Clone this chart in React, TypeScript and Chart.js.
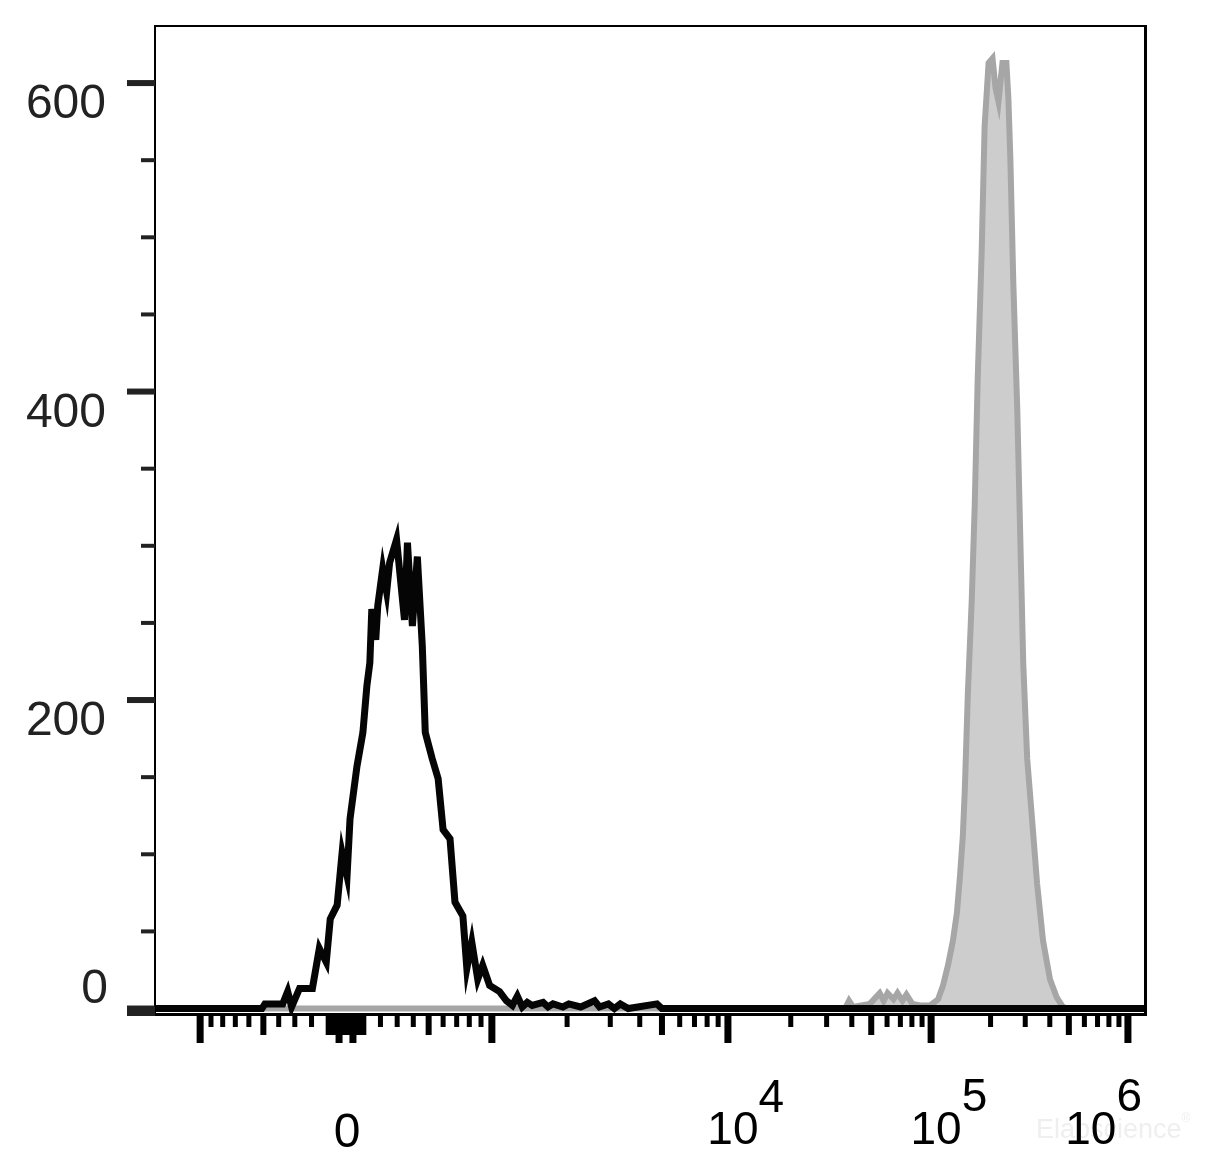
import React, { useEffect, useRef } from "react";
import { Chart, registerables } from "chart.js";

Chart.register(...registerables);

// ---------- data (x in display channels 0..1000, y in cell counts) ----------
const blackChannels = [0, 108, 111, 129, 134, 138, 146, 159, 166, 173, 177, 184, 189, 194, 197, 204, 210, 214, 217, 219, 223, 225, 230, 234, 237, 244, 252, 255, 260, 265, 270, 273, 280, 286, 291, 298, 303, 311, 315, 320, 326, 331, 338, 348, 355, 361, 366, 371, 376, 381, 392, 397, 402, 412, 418, 430, 444, 449, 458, 464, 470, 478, 507, 512, 1000];
const blackCounts = [0, 0, 3, 3, 11, 1, 13, 13, 39, 30, 58, 67, 101, 86, 123, 157, 179, 209, 224, 259, 239, 261, 285, 270, 289, 304, 252, 302, 248, 293, 235, 179, 162, 149, 116, 110, 69, 60, 26, 43, 19, 28, 15, 11, 5, 2, 8, 1, 4, 2, 4, 1, 3, 1, 3, 1, 5, 1, 3, 0, 3, 0, 3, 0, 0];

const grayChannels = [0, 697, 701, 705, 722, 732, 736, 740, 746, 750, 755, 759, 765, 773, 783, 791, 796, 801, 806, 810, 813, 816, 818, 821, 825, 828, 831, 835, 838, 842, 846, 849, 852, 856, 860, 862, 864, 867, 871, 874, 877, 881, 886, 891, 897, 904, 911, 917, 922, 1000];
const grayCounts = [0, 0, 5, 1, 3, 10, 5, 10, 6, 10, 5, 9, 3, 2, 2, 6, 15, 28, 44, 62, 85, 112, 142, 203, 265, 326, 408, 490, 572, 613, 616, 597, 588, 613, 613, 590, 551, 470, 388, 306, 224, 162, 122, 81, 44, 19, 7, 1, 0, 0];

// y axis ticks
const yMajorTicks = [0, 200, 400, 600];
const yMinorTicks = [50, 100, 150, 250, 300, 350, 450, 500, 550];

// x axis ticks (real fluorescence values)
const xLongTicks = [-1000, -40, 40, 1000, 10000, 100000, 1000000];
const xMediumTicks = [-500, -100, -90, -80, -70, -60, -50, -30, -20, -10, 0, 10, 20, 30, 50, 60, 70, 80, 90, 100, 500, 5000, 50000, 500000];
const xShortTicks = [-900, -800, -700, -600, -400, -300, -200, 200, 300, 400, 600, 700, 800, 900, 2000, 3000, 4000, 6000, 7000, 8000, 9000, 20000, 30000, 40000, 60000, 70000, 80000, 90000, 200000, 300000, 400000, 600000, 700000, 800000, 900000];
const xLabelZero = "0";
const xDecadeLabels = [
  { value: 10000, base: "10", exp: "4" },
  { value: 100000, base: "10", exp: "5" },
  { value: 1000000, base: "10", exp: "6" },
];
const watermark = "Elabscience";

// ---------- biexponential (logicle-like) display transform ----------
const LG_C = 102.1;
const LG_P = 3.8;
const ZERO_CH = 192.93;
const CH_PER_UNIT = 85.96;

function biexValue(u: number): number {
  const p = LG_P;
  return LG_C * (Math.exp(u) - p * p * Math.exp(-u / p) + p * p - 1);
}
function toChannel(v: number): number {
  const s = v < 0 ? -1 : 1;
  const a = Math.abs(v);
  let lo = 0, hi = 20;
  for (let i = 0; i < 80; i++) {
    const mid = (lo + hi) / 2;
    if (biexValue(mid) < a) lo = mid; else hi = mid;
  }
  return ZERO_CH + s * CH_PER_UNIT * ((lo + hi) / 2);
}

const FONT = "'Liberation Sans', Arial, Helvetica, sans-serif";

const axisPlugin = {
  id: "flowAxes",
  afterDraw(chart: any) {
    const { ctx, chartArea: a, scales } = chart;
    const xs = scales.x;
    const ys = scales.y;
    ctx.save();

    // frame
    ctx.fillStyle = "#000";
    ctx.fillRect(a.left - 1, a.top - 1, a.right - a.left + 3, 2);
    ctx.fillRect(a.left - 1, a.top - 1, 2, a.bottom - a.top + 1);
    ctx.fillRect(a.right - 1, a.top - 1, 3, a.bottom - a.top + 1);
    ctx.fillRect(a.left - 1, a.bottom - 2, a.right - a.left + 3, 3);

    // y ticks
    ctx.fillStyle = "#222";
    for (const v of yMajorTicks) {
      const y = ys.getPixelForValue(v);
      if (v === 0) ctx.fillRect(a.left - 28, y - 3, 28, a.bottom + 1 - (y - 3));
      else ctx.fillRect(a.left - 28, y - 3, 28, 6);
    }
    for (const v of yMinorTicks) {
      const y = ys.getPixelForValue(v);
      ctx.fillRect(a.left - 14, y - 2, 14, 4);
    }

    // y labels
    ctx.font = `48px ${FONT}`;
    ctx.textAlign = "right";
    ctx.textBaseline = "alphabetic";
    ctx.fillStyle = "#222";
    for (const v of yMajorTicks) {
      const y = ys.getPixelForValue(v);
      ctx.fillText(String(v), v === 0 ? 100 : 98, v === 0 ? y - 5.5 : y + 35);
    }

    // x ticks
    ctx.fillStyle = "#000";
    const drawX = (vals: number[], len: number, w: number) => {
      for (const v of vals) {
        const x = xs.getPixelForValue(toChannel(v));
        ctx.fillRect(x - w / 2, a.bottom, w, len);
      }
    };
    drawX(xShortTicks, 12, 5);
    drawX(xMediumTicks, 20, 6);
    drawX(xLongTicks, 28, 7);

    // watermark
    ctx.textAlign = "left";
    ctx.fillStyle = "#efefef";
    ctx.font = `27px ${FONT}`;
    ctx.fillText(watermark, 1028, 1130);
    const ww = ctx.measureText(watermark).width;
    ctx.font = `12px ${FONT}`;
    ctx.fillText("\u00AE", 1028 + ww, 1114);

    // x labels
    ctx.fillStyle = "#000";
    ctx.font = `48px ${FONT}`;
    ctx.textAlign = "center";
    const x0 = xs.getPixelForValue(toChannel(0));
    ctx.fillText(xLabelZero, x0 + 1, 1139);

    for (const d of xDecadeLabels) {
      const tx = xs.getPixelForValue(toChannel(d.value));
      ctx.font = `46px ${FONT}`;
      const wb = ctx.measureText(d.base).width;
      const we = ctx.measureText(d.exp).width;
      let cx = tx + 5;
      const maxCx = 1134 - we - wb / 2;
      if (cx > maxCx) cx = maxCx;
      ctx.textAlign = "center";
      ctx.fillText(d.base, cx, 1136);
      ctx.textAlign = "left";
      ctx.fillText(d.exp, cx + wb / 2, d.exp === "4" ? 1104 : 1103);
    }

    ctx.restore();
  },
};

export default function App() {
  const ref = useRef<HTMLCanvasElement | null>(null);

  useEffect(() => {
    if (!ref.current) return;
    const chart = new Chart(ref.current, {
      type: "line",
      data: {
        datasets: [
          {
            label: "Isotype",
            data: blackChannels.map((c, i) => ({ x: c, y: blackCounts[i] })),
            borderColor: "#050505",
            borderWidth: 7,
            fill: false,
            pointRadius: 0,
            tension: 0,
            borderJoinStyle: "miter",
            order: 0,
          },
          {
            label: "Stained",
            data: grayChannels.map((c, i) => ({ x: c, y: grayCounts[i] })),
            borderColor: "#a6a6a6",
            backgroundColor: "#cdcdcd",
            borderWidth: 6,
            fill: "origin",
            pointRadius: 0,
            tension: 0,
            order: 1,
          },
        ],
      },
      options: {
        animation: false,
        responsive: false,
        devicePixelRatio: 1,
        events: [],
        layout: { padding: { left: 147, top: 18, right: 75, bottom: 147 } },
        plugins: { legend: { display: false }, tooltip: { enabled: false } },
        scales: {
          x: { type: "linear", min: 0, max: 1000, display: false },
          y: { type: "linear", min: -4.2, max: 637, display: false },
        },
      },
      plugins: [axisPlugin],
    } as any);
    return () => chart.destroy();
  }, []);

  return <canvas ref={ref} width={1212} height={1154} style={{ display: "block" }} />;
}
